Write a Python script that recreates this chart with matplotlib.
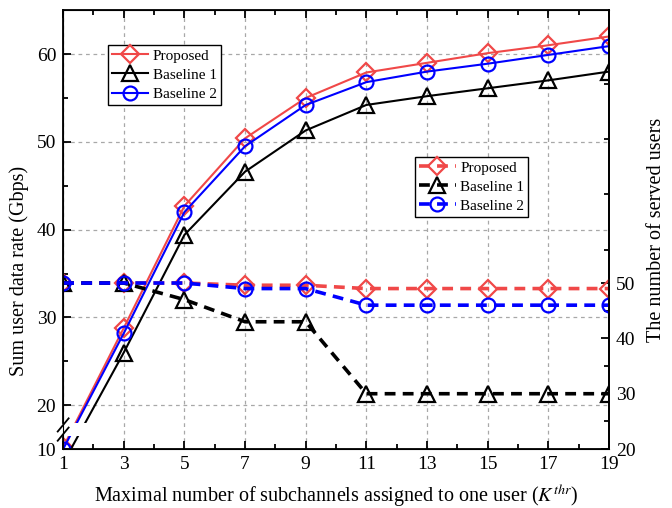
import numpy as np
import matplotlib
matplotlib.use('Agg')
import matplotlib.pyplot as plt
from matplotlib.lines import Line2D
from matplotlib.patches import Rectangle
from matplotlib.transforms import blended_transform_factory

plt.rcParams['font.family'] = ['Liberation Serif', 'DejaVu Serif']
plt.rcParams['mathtext.fontset'] = 'stix'

# K^thr values on the x axis
k_thr = [1, 3, 5, 7, 9, 11, 13, 15, 17, 19]

# sum user data rate (Gbps), left axis
rate_prop = [10.4, 28.8, 42.7, 50.4, 55.0, 57.9, 59.0, 60.1, 61.0, 62.0]
rate_b1 = [6.8, 26.0, 39.4, 46.6, 51.3, 54.2, 55.2, 56.1, 57.0, 58.0]
rate_b2 = [10.0, 28.2, 42.0, 49.5, 54.2, 56.8, 58.0, 58.9, 59.9, 60.9]

# number of served users, right axis
users_prop = [50, 50, 50, 49.6, 49.6, 49, 49, 49, 49, 49]
users_b1 = [50, 50, 47, 43, 43, 30, 30, 30, 30, 30]
users_b2 = [50, 50, 50, 49, 49, 46, 46, 46, 46, 46]

labels = ['Proposed', 'Baseline 1', 'Baseline 2']
colors = ['#f04848', 'black', 'blue']
markers = ['D', '^', 'o']
msizes = [9, 11, 10]

TICK_FS = 14
LAB_FS = 14.5


# broken left axis: everything below 20 is squeezed to half scale
def fwd(v):
    v = np.asarray(v, dtype=float)
    return np.where(v >= 20, v, 20 - (20 - v) * 0.5)


def inv(t):
    t = np.asarray(t, dtype=float)
    return np.where(t >= 20, t, 20 - (20 - t) * 2.0)


fig = plt.figure(figsize=(6.72, 5.08), dpi=100)
ax = fig.add_axes([0.094, 0.116, 0.812, 0.864])
ax.set_yscale('function', functions=(fwd, inv))

h1 = []
for y, c, m, ms, lab in zip([rate_prop, rate_b1, rate_b2], colors, markers, msizes, labels):
    ln, = ax.plot(k_thr, y, color=c, marker=m, markersize=ms, markerfacecolor='none',
                  markeredgecolor=c, markeredgewidth=1.6, linewidth=1.5, label=lab)
    h1.append(ln)

ax.set_xlim(1, 19)
ax.set_ylim(10, 65)
ax.set_xticks(np.arange(1, 20, 2))
ax.set_xticks(np.arange(2, 19, 2), minor=True)
ax.set_yticks([10, 20, 30, 40, 50, 60])
ax.set_yticks([25, 35, 45, 55], minor=True)
ax.grid(True, which='major', color='#a8a8a8', linestyle=(0, (3, 3)), linewidth=0.9)
ax.tick_params(which='both', direction='in', top=True, right=False,
               labelsize=TICK_FS, width=1.3, pad=5)
ax.tick_params(which='major', length=6)
ax.tick_params(which='minor', length=3.5)
for s in ['top', 'bottom', 'right']:
    ax.spines[s].set_linewidth(1.3)

# axis break: cut the lines and the left spine, add the double slash
ax.spines['left'].set_visible(False)
bt = blended_transform_factory(ax.transData, ax.transAxes)
ax.add_patch(Rectangle((1.0, 0.029), 0.9, 0.031, transform=bt,
                       facecolor='white', edgecolor='none', zorder=3))
lo, hi = 0.027, 0.059
ax.add_line(Line2D([0, 0], [hi, 1], transform=ax.transAxes, color='black',
                   linewidth=1.3, clip_on=False, zorder=5))
ax.add_line(Line2D([0, 0], [0, lo], transform=ax.transAxes, color='black',
                   linewidth=1.3, clip_on=False, zorder=5))
for yc in [0.055, 0.034]:
    ax.add_line(Line2D([-0.01, 0.01], [yc - 0.015, yc + 0.015], transform=ax.transAxes,
                       color='black', linewidth=1.3, clip_on=False, zorder=5))

ax.set_xlabel('Maximal number of subchannels assigned to one user ($K^{thr}$)',
              fontsize=LAB_FS, labelpad=7)
ax.set_ylabel('Sum user data rate (Gbps)', fontsize=LAB_FS)
ax.yaxis.set_label_coords(-0.062, 0.405)

# served users on the twin axis
ax2 = ax.twinx()
h2 = []
for y, c, m, ms, lab in zip([users_prop, users_b1, users_b2], colors, markers, msizes, labels):
    ln, = ax2.plot(k_thr, y, color=c, marker=m, markersize=ms, markerfacecolor='none',
                   markeredgecolor=c, markeredgewidth=1.6, linewidth=2.6,
                   linestyle=(0, (3, 2)), label=lab)
    h2.append(ln)
ax2.set_ylim(20, 99.3)
ax2.set_yticks([20, 30, 40, 50])
ax2.set_yticks([25, 35, 45, 56, 66, 76, 86], minor=True)
ax2.tick_params(which='both', direction='in', labelsize=TICK_FS, width=1.3, pad=5)
ax2.tick_params(which='major', length=6)
ax2.tick_params(which='minor', length=3.5)
ax2.spines['right'].set_linewidth(1.3)
ax2.set_ylabel('The number of served users', fontsize=LAB_FS, labelpad=8)

leg_kw = dict(fontsize=11, frameon=True, fancybox=False, edgecolor='black',
              framealpha=1, borderpad=0.25, labelspacing=0.35, handlelength=2.4,
              handletextpad=0.3, borderaxespad=0)
leg1 = ax2.legend(handles=h1, loc='upper left', bbox_to_anchor=(0.082, 0.92), **leg_kw)
leg1.get_frame().set_linewidth(1.0)
ax2.add_artist(leg1)
leg2 = ax2.legend(handles=h2, loc='upper left', bbox_to_anchor=(0.645, 0.665), **leg_kw)
leg2.get_frame().set_linewidth(1.0)

fig.savefig('out.png', dpi=100)
